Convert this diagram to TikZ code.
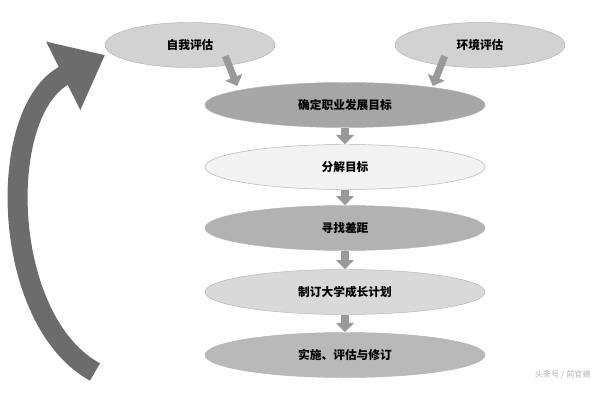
\documentclass[tikz,border=0pt]{standalone}
\usepackage{fontspec}
\setmainfont{Noto Sans CJK SC}
\usetikzlibrary{arrows.meta, positioning, shapes.geometric}

\begin{document}
\begin{tikzpicture}[x=0.03cm, y=-0.03cm,
        stage/.style={ellipse, draw=gray!60, minimum width=8.4cm, minimum height=1.35cm, font=\bfseries},
        side/.style={ellipse, draw=gray!60, minimum width=5.1cm, minimum height=1.35cm, font=\bfseries},
        flow/.style={line width=6pt, draw=gray!80, -{Triangle[length=8pt, width=15pt]}}
    ]
    \useasboundingbox (0,0) rectangle (600,400);

    % Inputs
    \node[side, fill=gray!35] (self) at (190,45) {自我评估};
    \node[side, fill=gray!35] (env) at (480,45) {环境评估};

    % Main chain
    \node[stage, fill=gray!70] (goal) at (345,105) {确定职业发展目标};
    \node[stage, fill=gray!10] (split) at (345,167) {分解目标};
    \node[stage, fill=gray!60] (gap) at (345,228) {寻找差距};
    \node[stage, fill=gray!30] (plan) at (345,292) {制订大学成长计划};
    \node[stage, fill=gray!55] (act) at (345,355) {实施、评估与修订};

    % Arrows between stages
    \draw[flow] (self.south east) ++(-25,-5) -- ++(12,30);
    \draw[flow] (env.south west) ++(25,-5) -- ++(-12,30);
    \draw[flow] (goal.south) -- (split.north);
    \draw[flow] (split.south) -- (gap.north);
    \draw[flow] (gap.south) -- (plan.north);
    \draw[flow] (plan.south) -- (act.north);

    % Feedback arrow
    \coordinate (loopstart) at (95,372);
    \coordinate (loopend) at (105,55);
    \draw[line width=0.6cm, draw=gray!85!black, -{Triangle[length=1.4cm, width=2.2cm]}]
        (loopstart) .. controls (0,320) and (-5,110) .. (loopend);

    % Watermark
    \node[font=\scriptsize, text=gray!60, anchor=east] (mark) at (595,375) {头条号 / 前官摘};
\end{tikzpicture}
\end{document}
